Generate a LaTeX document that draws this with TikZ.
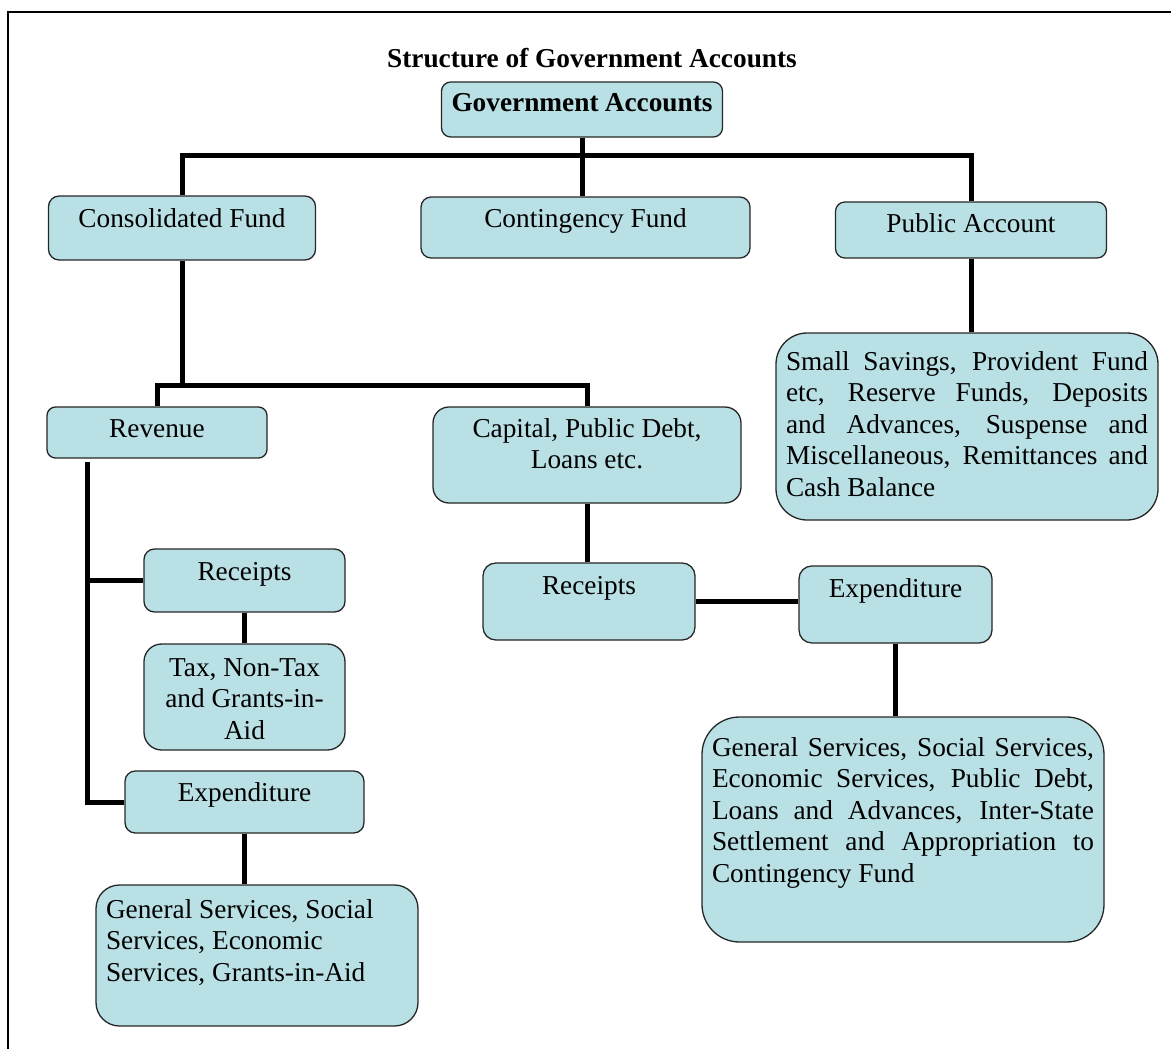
\documentclass[tikz,border=0pt]{standalone}
\usepackage{fontspec}
\setmainfont{Liberation Serif}
\usepackage{tikz}
\definecolor{Gacc}{RGB}{185,224,228}
\newcommand{\accfont}{\fontsize{27.3}{31.5}\selectfont}

\tikzset{
  accbase/.style n args={4}{draw=black!85, fill=Gacc, line width=1.3pt,
      rounded corners=#2/6*1pt, inner xsep=10pt, inner ysep=#3pt, font=\accfont,
      execute at begin node={\begin{minipage}[c][\dimexpr#2pt-#3pt-#3pt\relax][t]{\dimexpr#1pt-20pt\relax}#4\strut},
      execute at end node={\end{minipage}}},
  acc/.style n args={3}{accbase={#1}{#2}{#3}{\centering}},
  accj/.style n args={3}{accbase={#1}{#2}{#3}{}},
  accl/.style n args={3}{accbase={#1}{#2}{#3}{\raggedright}},
  link/.style={line width=5pt}
}

\begin{document}
\begin{tikzpicture}[x=1pt, y=-1pt]
    \useasboundingbox (0,0) rectangle (1171,1049);
    \draw[line width=1.5pt] (8,1060) -- (8,12) -- (1180,12);

    \node[font=\accfont\bfseries] (title) at (592,58) {Structure of Government Accounts};
    \node[acc={281}{55}{7}] (gov) at (582,109.5) {\textbf{Government Accounts}};

    % first level
    \node[acc={267}{64}{9}] (cons) at (182,228) {Consolidated Fund};
    \node[acc={329}{61}{8}] (cont) at (585.5,227.5) {Contingency Fund};
    \node[acc={271}{56}{8}] (pubacc) at (971,230) {Public Account};
    \node[accj={382}{187}{15}] (padet) at (967,426.5)
        {Small Savings, Provident Fund\linebreak etc, Reserve Funds, Deposits\linebreak and Advances, Suspense and\linebreak Miscellaneous, Remittances and\linebreak Cash Balance};

    % consolidated fund
    \node[acc={220}{51}{8}] (rev) at (157,432.5) {Revenue};
    \node[acc={308}{96}{8}] (cap) at (587,455) {Capital, Public Debt,\\Loans etc.};

    \node[acc={201}{63}{9}] (recL) at (244.5,580.5) {Receipts};
    \node[acc={201}{106}{10}] (tax) at (244.5,697) {Tax, Non-Tax\\and Grants-in-\\Aid};
    \node[acc={239}{62}{8}] (expL) at (244.5,802) {Expenditure};
    \node[accl={322}{141}{11}] (genL) at (257,955.5)
        {General Services, Social\\Services, Economic\\Services, Grants-in-Aid};

    \node[acc={212}{77}{9}] (recR) at (589,601.5) {Receipts};
    \node[acc={193}{77}{9}] (expR) at (895.5,604.5) {Expenditure};
    \node[accj={402}{225}{17}] (genR) at (903,829.5)
        {General Services, Social Services,\linebreak Economic Services, Public Debt,\linebreak Loans and Advances, Inter-State\linebreak Settlement and Appropriation to\linebreak Contingency Fund};

    % connectors
    \coordinate (top) at (582,155);
    \coordinate (mid) at (182,385);
    \coordinate (revdrop) at (87,462);

    \draw[link] (gov.south) -- (gov.south |- cont.north);
    \draw[link] (cons.north) |- (top) -| (pubacc.north);
    \draw[link] (pubacc.south) -- (pubacc.south |- padet.north);
    \draw[link] (cons.south) -- (mid);
    \draw[link] (rev.north) |- (mid) -| (cap.north);
    \draw[link] (revdrop) |- (expL.west);
    \draw[link] (recL.west) -- (recL.west -| revdrop);
    \draw[link] (recL.south) -- (tax.north);
    \draw[link] (expL.south) -- (expL.south |- genL.north);
    \draw[link] (cap.south) -- (cap.south |- recR.north);
    \draw[link] (recR.east) -- (recR.east -| expR.west);
    \draw[link] (expR.south) -- (expR.south |- genR.north);
\end{tikzpicture}
\end{document}
